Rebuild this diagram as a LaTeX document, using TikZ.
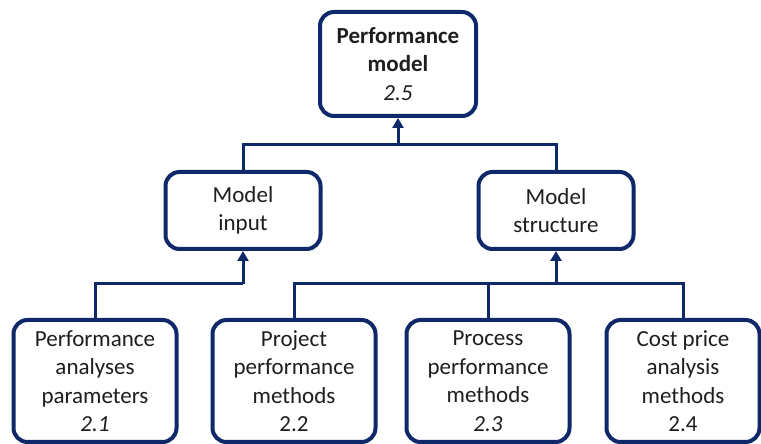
\documentclass[tikz,border=0pt]{standalone}
\usepackage{fontspec}
\setmainfont{Carlito}
\usetikzlibrary{arrows.meta}
\definecolor{navy}{RGB}{14,40,105}
\definecolor{ink}{RGB}{30,30,30}
\tikzset{
  box/.style={draw=navy, line width=4pt, rounded corners=14pt, fill=white,
    inner sep=0pt, align=center, text=ink,
    font=\fontsize{23}{28.5}\selectfont},
  topbox/.style={box, minimum width=156pt, minimum height=104pt},
  midbox/.style={box, minimum width=155pt, minimum height=77pt},
  lowbox/.style={box, minimum width=163pt, minimum height=122pt},
  conn/.style={draw=navy, line width=3pt},
  arr/.style={conn, -{Triangle[length=10pt,width=11pt]}},
}
\begin{document}
\begin{tikzpicture}[x=1pt,y=1pt]
  \useasboundingbox (0,0) rectangle (761,444);

  % boxes
  \node[topbox] (top) at (398,380) {\textbf{Performance}\\\textbf{model}\\\textit{2.5}};
  \node[midbox] (mi) at (243,233.5) {Model\\input};
  \node[midbox] (ms) at (556,233.5) {Model\\structure};
  \node[lowbox] (b1) at (95,63) {Performance\\analyses\\parameters\\\textit{2.1}};
  \node[lowbox] (b2) at (294,63) {Project\\performance\\methods\\2.2};
  \node[lowbox] (b3) at (488,63) {Process\\performance\\methods\\\textit{2.3}};
  \node[lowbox, minimum width=153pt] (b4) at (683,63) {Cost price\\analysis\\methods\\2.4};

  % bus levels
  \coordinate (bus1) at (0,299);
  \coordinate (bus2) at (0,160);

  % model input and structure into the performance model
  \draw[conn] (mi.north) |- (ms.north |- bus1) -- (ms.north);
  \draw[arr] (top.south |- bus1) -- (top.south);

  % parameters into model input
  \draw[conn] (b1.north) |- (mi.south |- bus2);
  \draw[arr] (mi.south |- bus2) -- (mi.south);

  % methods into model structure
  \draw[conn] (b2.north) |- (b4.north |- bus2) -- (b4.north);
  \draw[conn] (b3.north) -- (b3.north |- bus2);
  \draw[arr] (ms.south |- bus2) -- (ms.south);
\end{tikzpicture}
\end{document}
